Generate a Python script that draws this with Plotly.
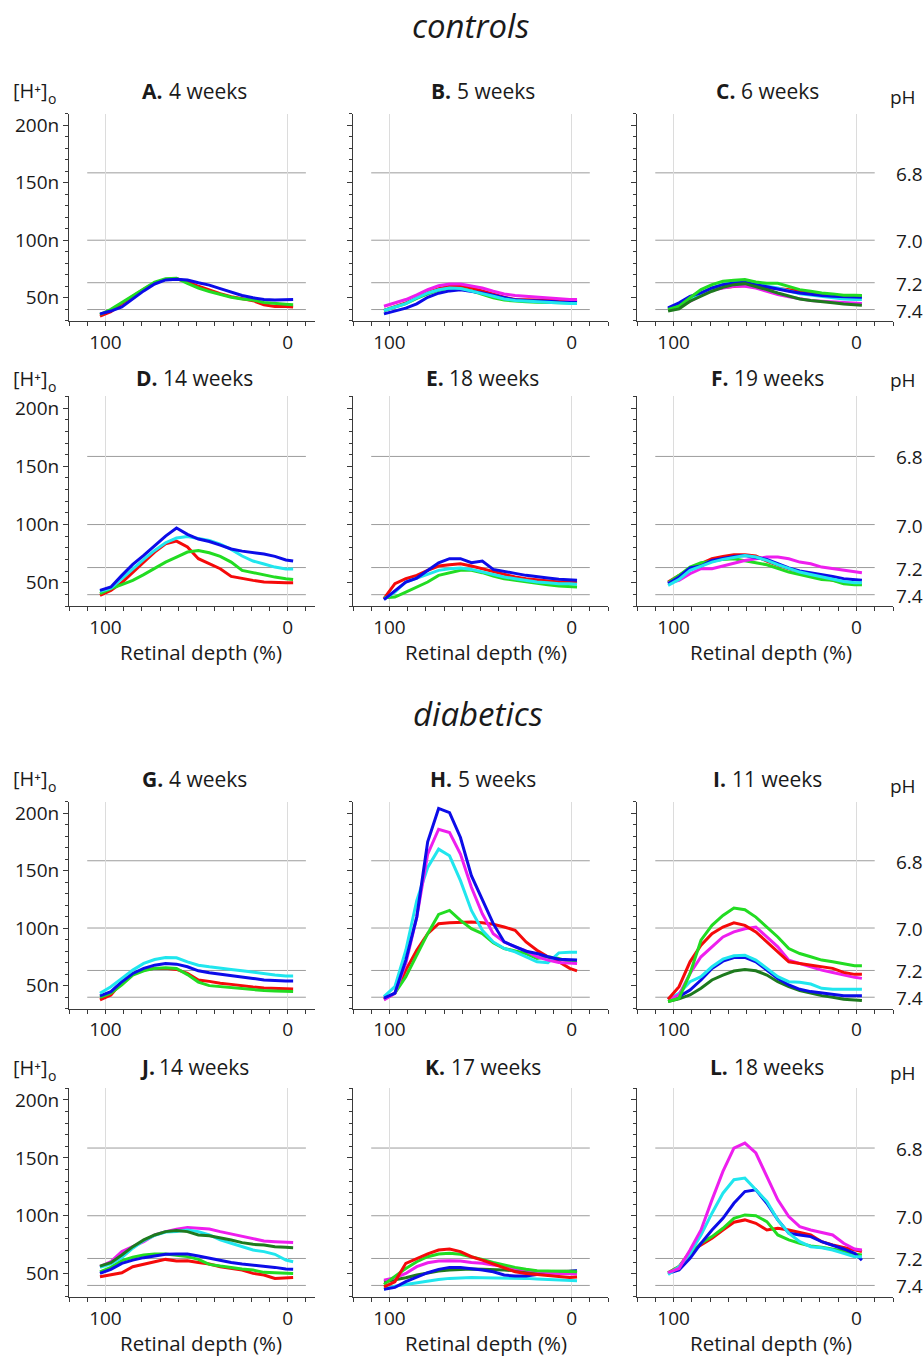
import plotly.graph_objects as go

W, H = 923, 1357

# ---------------- data ----------------
depth = [103, 97, 91, 85, 79, 73, 67, 61, 55, 49, 43, 37, 31, 25, 19, 13, 7, 1, -3]

# controls
a_red = [34, 38, 45, 51.5, 57.5, 63, 66, 66.5, 64, 60, 56.5, 53.5, 51, 49, 47.5, 44, 42.5, 42.5, 42]
a_green = [35.5, 40, 46, 52, 58, 63.5, 66.5, 67, 62.5, 58.5, 55.5, 53, 50.5, 49, 48, 46, 45, 44.5, 44]
a_blue = [36, 38.5, 42, 49, 56, 62, 65.5, 66, 65.5, 63, 61, 58, 55, 52, 50, 48.5, 48, 48.5, 48.5]

b_red = [39, 42, 45.5, 50, 54.5, 58, 60, 60, 58.5, 56, 53, 50.5, 48.5, 48, 48, 48, 47.5, 47, 47]
b_green = [39, 42, 45, 49.5, 53.5, 56.5, 58, 58, 56, 53, 50, 48, 47, 46.5, 46.2, 46, 45.7, 45.5, 45.5]
b_blue = [36, 38.4, 41, 44.7, 50.4, 54, 56, 57, 55.7, 54.2, 52.2, 50, 48.2, 47.6, 47.6, 47, 46.4, 46, 46]
b_cyan = [39, 41.9, 45, 50, 54.2, 57, 58.5, 58, 56, 53.6, 51.3, 49, 47.6, 47, 46.4, 46.1, 45.5, 45, 45]
b_magenta = [42.7, 45.5, 48.5, 52.5, 57, 60.5, 62, 62, 60, 58.5, 55.7, 53.3, 52, 51.3, 51, 50.2, 49, 48.5, 48.5]

c_red = [40.4, 43.5, 47.6, 52.5, 57, 59, 60, 60.6, 60, 58.5, 58, 57.1, 55.7, 55.1, 53.4, 52, 51.5, 51.3, 51.3]
c_magenta = [40.4, 43.5, 47, 52, 56.5, 58.5, 60, 60, 58.5, 55.7, 52.8, 50.8, 49, 47.6, 47, 46.5, 46.1, 45.5, 45]
c_cyan = [40.4, 45, 49, 54, 58.5, 61.5, 63.7, 64.3, 63.4, 60, 58.5, 56, 53.6, 52.5, 51.3, 50, 49, 48.5, 48.5]
c_blue = [41.2, 45.6, 51.3, 54.2, 58.5, 61.4, 62.9, 63.4, 61.4, 59.4, 58, 55.7, 54.2, 52.8, 52, 51.3, 50.8, 50.5, 50.5]
c_green = [39.8, 42.7, 50, 57.1, 61.4, 64.3, 65.2, 65.8, 63.7, 62.6, 62.6, 60, 57.1, 55.7, 54.2, 53.4, 52.2, 52.2, 52]
c_dkgreen = [38.4, 40.4, 47, 51.3, 55.7, 59.1, 61.4, 62.3, 60, 57.1, 54.2, 51.3, 49, 47.6, 46.4, 45.6, 44.7, 44.1, 43.6]

d_red = [39.2, 43.5, 50.1, 59.2, 67.8, 76.4, 83.5, 85.8, 80.7, 70.7, 66.1, 62.1, 55.5, 53.5, 52.1, 50.7, 50.1, 50.1, 50.1]
d_green = [40.7, 45, 48.4, 52.1, 57, 62.1, 67.8, 72.1, 76.4, 77.8, 75.8, 72.7, 67.8, 60.7, 58.7, 57, 54.9, 53.5, 52.9]
d_cyan = [42.7, 45.5, 53.5, 62.1, 70.1, 77.8, 84.4, 88.4, 89.8, 88.1, 86.4, 83.2, 78.7, 73, 68.7, 66.1, 63.5, 61.8, 61.8]
d_blue = [43.5, 46.4, 56.4, 65.8, 73.5, 82.1, 90.1, 97, 91.6, 87.6, 85.5, 82.4, 79, 77.2, 76.1, 74.7, 72.7, 69.6, 68.7]

e_red = [36.4, 49.2, 53.5, 56.4, 60.7, 64.4, 65.5, 66.4, 64.4, 62.1, 59.2, 57, 55, 53.5, 52.7, 51.8, 50.7, 50.7, 50.7]
e_green = [37.2, 37.8, 42, 46.4, 50.7, 56.4, 58.7, 60.7, 60.7, 58.7, 55.8, 53.5, 52.1, 50.7, 49.2, 48.4, 47.2, 46.4, 46.4]
e_cyan = [35.8, 42, 50.7, 54.1, 57.8, 60.7, 62.1, 62.7, 61.5, 59.2, 57.2, 55, 53.5, 52.1, 50.7, 50.1, 49.2, 49.2, 48.7]
e_blue = [35.5, 43.5, 50.7, 54.1, 60.7, 67.2, 70.7, 70.7, 67.2, 68.7, 61.5, 60.1, 58.1, 56.4, 55, 54.1, 53, 52.1, 52.1]

f_red = [50.7, 56.4, 62.1, 66.4, 70.7, 72.7, 74.1, 74.1, 73, 68.7, 64.9, 62.1, 59.2, 57, 55, 52.1, 50.7, 49.2, 49.2]
f_green = [50.1, 56.4, 63.5, 67.2, 68.4, 70.1, 70.7, 69.2, 67.2, 65.5, 62.1, 59.2, 57.2, 55, 52.9, 52.1, 49.2, 48.4, 48.4]
f_magenta = [49.8, 52.1, 57.8, 62.1, 62.1, 64.4, 66.4, 69.2, 70.7, 72.1, 72.1, 70.7, 67.8, 66.4, 63.5, 62.1, 60.7, 59.2, 58.7]
f_blue = [49.2, 55, 62.7, 64.4, 69.2, 70.7, 72.7, 73.5, 72.1, 70.1, 66.4, 62.7, 60.1, 58.7, 57.2, 55.5, 53.5, 52.7, 52.1]
f_cyan = [47.8, 52.9, 60.7, 64.4, 67.8, 70.1, 71.5, 73.5, 72.1, 69.2, 65.5, 62.1, 59.2, 57.2, 55, 52.9, 51.2, 50.1, 50.1]

# diabetics
g_red = [37.5, 41.8, 53.3, 60.5, 63.4, 64.9, 64.9, 64, 60.5, 54.8, 53.6, 51.9, 51, 49.6, 48.7, 47.9, 47.6, 47, 47]
g_green = [39.8, 43.3, 50.5, 59.1, 62.8, 64.9, 65.4, 64.9, 59.5, 53, 49.9, 49, 48.2, 47.3, 46.4, 45.6, 45.3, 45, 44.7]
g_blue = [41, 44.7, 53.3, 60.5, 64.9, 67.7, 69.2, 68.6, 66.3, 62.8, 61.1, 60, 58.5, 57.7, 56.2, 54.8, 54.2, 53.9, 53.9]
g_cyan = [43.3, 49, 56.2, 63.4, 69.2, 72.6, 74.4, 74.1, 70.6, 67.7, 66.3, 64.9, 64, 62.8, 61.4, 60.5, 59.1, 58.2, 58.2]

h_red = [38.1, 43.3, 63.4, 80.7, 95.1, 103.8, 104.6, 105.2, 105.2, 104.6, 103.2, 100.9, 98, 87.9, 80.7, 75, 70.6, 64.9, 62.8]
h_green = [38.1, 43.3, 57.7, 76.4, 95.1, 111.8, 115.3, 106.6, 99.4, 95.1, 87.1, 82.2, 80.1, 77.8, 73.5, 75, 73.5, 70.6, 70.6]
h_cyan = [40.4, 49, 80.7, 123.9, 152.7, 168.6, 162.8, 141.2, 115.3, 98, 87.9, 82.2, 79.3, 75, 70.6, 69.8, 78.4, 79, 79]
h_magenta = [37.5, 43.3, 69.2, 109.5, 164.3, 185.9, 183, 164.3, 135.4, 112.4, 95.1, 87.9, 83.6, 80.1, 75, 72.1, 70.1, 69.2, 69.2]
h_blue = [39, 43.3, 72.1, 109.5, 175, 204, 200.3, 178.7, 145.5, 123.9, 103.8, 87.9, 83.6, 79.8, 77.8, 75, 72.9, 72.1, 72.1]

i_dkgreen = [36.1, 38.4, 41.8, 47.6, 54.8, 59.1, 62.6, 64, 62.8, 59.1, 53.3, 49, 45.6, 43.3, 41.2, 39.8, 38.1, 37.5, 37]
i_blue = [38.1, 40.4, 46.1, 54.8, 64.9, 71.2, 74.4, 74.4, 70.6, 63.4, 56.2, 50.5, 46.7, 44.7, 43.3, 41.8, 41, 41.2, 41.2]
i_cyan = [38.1, 43.3, 53.3, 57.7, 66.3, 72.9, 75.8, 76.4, 72.1, 64.9, 57.7, 53.3, 52.8, 51.3, 47.6, 46.7, 46.7, 46.7, 46.7]
i_magenta = [37.5, 41.8, 60.5, 75, 83.6, 92.2, 96.6, 99.4, 100.9, 92.2, 83.6, 72.1, 69.2, 66.3, 63.4, 61.4, 59.1, 57.1, 56.2]
i_red = [38.1, 49, 70.6, 85, 95.1, 100.9, 104.6, 102.3, 96.6, 87.9, 79.3, 70.6, 69.2, 67.7, 66.3, 64.9, 61.4, 59.7, 59.7]
i_green = [36.1, 39, 60.5, 89.4, 102.3, 110.9, 117.3, 115.9, 109.5, 100.9, 92.2, 82.2, 77.8, 75, 72.1, 70.6, 68.6, 67.2, 67.2]

j_red = [47.3, 48.8, 50.8, 56, 58.3, 60.3, 62.3, 60.9, 61.2, 59.7, 58.3, 56, 54.5, 53.1, 50.2, 48.8, 45.9, 46.7, 46.7]
j_green = [51.6, 55.4, 61.2, 64.1, 66.1, 67, 67, 66.1, 64.7, 62.3, 58, 56.5, 55.1, 54, 53.1, 51.1, 50.8, 50.2, 50.2]
j_blue = [50.2, 53.7, 58.9, 61.7, 63.8, 65.5, 66.7, 67, 67, 65.2, 63.2, 61.2, 59.7, 58.3, 57.4, 56, 55.4, 54, 53.7]
j_magenta = [56, 60.3, 69, 73.3, 77.6, 83.4, 86.3, 88.3, 89.8, 89.2, 88.6, 86.3, 84.3, 82, 80.5, 78.2, 77.6, 76.8, 76.8]
j_cyan = [55.4, 58.5, 64, 72, 78.5, 83, 86, 86.3, 87.7, 86.3, 83.4, 79.1, 76.2, 73.3, 70.4, 69, 66.7, 61.7, 60.3]
j_dkgreen = [56.5, 59.4, 66.1, 73.3, 79.1, 83.4, 86.3, 87.2, 86.3, 83.4, 82.8, 81.1, 79.1, 76.8, 75.3, 74.7, 73.3, 72.7, 72.4]

k_cyan = [36.6, 39.2, 40.7, 42.1, 43.8, 45, 45.9, 46.4, 46.7, 46.4, 46.4, 46.4, 46.2, 45.9, 45.3, 45, 44.4, 43.8, 43.8]
k_dkgreen = [43, 44.4, 46.4, 48.8, 50.8, 52.2, 53.1, 53.7, 54, 53.7, 53.7, 53.1, 52.5, 51.6, 51.6, 51.6, 51.6, 51.6, 52.2]
k_blue = [36.6, 38.1, 43, 46.7, 50.8, 53.7, 55.4, 55.4, 54.5, 53.1, 51.6, 48.8, 47.9, 47.9, 49.3, 50.2, 50.8, 51.6, 52.5]
k_magenta = [44.4, 46.4, 50.2, 56, 59.4, 60.9, 61.2, 60.9, 59.7, 58.9, 57.4, 56.5, 54.5, 53.1, 52.2, 50.8, 50.2, 49.6, 49.6]
k_green = [40.7, 47.3, 54.5, 60.3, 64.6, 67, 67.5, 66.7, 64.6, 62.3, 59.7, 57.4, 55.4, 53.7, 52.5, 52.2, 51.9, 51.6, 51.6]
k_red = [38.6, 43, 58.9, 63.2, 67, 70.4, 71.3, 69, 64.6, 61.7, 58.3, 54.5, 51.6, 50.2, 49.3, 48.8, 47.9, 46.7, 47]

l_red = [50.8, 56, 69, 74.7, 80.5, 87.7, 94.4, 96.4, 93.5, 87.7, 89.2, 87.7, 85.4, 83.4, 77.6, 74.7, 72.7, 70.4, 69]
l_green = [50.8, 56, 67, 76.2, 82, 89.2, 97.8, 100.7, 100.1, 94.9, 83.4, 79.1, 76.2, 73.9, 72.7, 71, 69.5, 66.9, 66.1]
l_blue = [50.2, 53.1, 63.2, 76.2, 87.7, 97.8, 110.8, 120.9, 122.4, 110.8, 96.4, 84.9, 83.4, 82, 77.6, 74.7, 71.3, 67.5, 61.7]
l_cyan = [49.3, 56, 67.5, 83.4, 102.2, 119.5, 131.1, 132.5, 122.4, 112.3, 96.4, 84.9, 77.6, 73.3, 72.4, 70.4, 67.5, 64.6, 64.6]
l_magenta = [50.8, 54.5, 70.4, 87.7, 113.7, 138.3, 158.5, 162.8, 154.2, 134, 113.7, 99.3, 90.6, 87.7, 85.4, 83.4, 76.2, 71.3, 70.4]

panel_letters = ["A.", "B.", "C.", "D.", "E.", "F.", "G.", "H.", "I.", "J.", "K.", "L."]
panel_ages = ["4 weeks", "5 weeks", "6 weeks", "14 weeks", "18 weeks", "19 weeks",
              "4 weeks", "5 weeks", "11 weeks", "14 weeks", "17 weeks", "18 weeks"]
panel_series = [
    [("red", a_red), ("green", a_green), ("blue", a_blue)],
    [("red", b_red), ("green", b_green), ("blue", b_blue), ("cyan", b_cyan), ("magenta", b_magenta)],
    [("red", c_red), ("magenta", c_magenta), ("cyan", c_cyan), ("blue", c_blue), ("green", c_green), ("dkgreen", c_dkgreen)],
    [("red", d_red), ("green", d_green), ("cyan", d_cyan), ("blue", d_blue)],
    [("red", e_red), ("green", e_green), ("cyan", e_cyan), ("blue", e_blue)],
    [("red", f_red), ("green", f_green), ("magenta", f_magenta), ("blue", f_blue), ("cyan", f_cyan)],
    [("red", g_red), ("green", g_green), ("blue", g_blue), ("cyan", g_cyan)],
    [("red", h_red), ("green", h_green), ("cyan", h_cyan), ("magenta", h_magenta), ("blue", h_blue)],
    [("dkgreen", i_dkgreen), ("blue", i_blue), ("cyan", i_cyan), ("magenta", i_magenta), ("red", i_red), ("green", i_green)],
    [("red", j_red), ("green", j_green), ("blue", j_blue), ("magenta", j_magenta), ("cyan", j_cyan), ("dkgreen", j_dkgreen)],
    [("cyan", k_cyan), ("dkgreen", k_dkgreen), ("blue", k_blue), ("magenta", k_magenta), ("green", k_green), ("red", k_red)],
    [("red", l_red), ("green", l_green), ("blue", l_blue), ("cyan", l_cyan), ("magenta", l_magenta)],
]

h_tickvals = [50, 100, 150, 200]
h_ticktext = ["50n", "100n", "150n", "200n"]
ph_levels = [6.8, 7.0, 7.2, 7.4]
ph_ticktext = ["6.8", "7.0", "7.2", "7.4"]
x_tickvals = [100, 0]
x_ticktext = ["100", "0"]

# ---------------- styling / layout ----------------
COLORS = {"red": "#f50a0a", "green": "#22dc22", "blue": "#0c0ce8", "cyan": "#20e6ee",
          "magenta": "#ee1eee", "dkgreen": "#1e7a1e"}
FONT = "Open Sans, Lato, Arial, sans-serif"
TXT = "#1a1a1a"
AXC = "#3a3a3a"

Y_RANGE = [30, 210]
row_px = [(111.7, 319.3), (395, 605), (800.7, 1008), (1088, 1296.7)]
col_px = [(69, 315), (353, 608), (637, 893)]
x_right = [-15, -20, -20]
title_y = [89, 377, 778, 1067]
ph_title_y = [95, 379, 785, 1073]
TITLE_SIZE = 21

# approximate advance widths (em) used only to centre the two-part panel titles
BOLD_W = {"A": .74, "B": .71, "C": .65, "D": .75, "E": .56, "F": .54, "G": .74, "H": .78,
          "I": .35, "J": .34, "K": .68, "L": .57, ".": .29}
REG_W = {" ": .26, "w": .82, "e": .562, "k": .53, "s": .48}


def text_w(s, table, size):
    return sum(table.get(ch, .572) for ch in s) * size


def px(x):
    return x / W


def py(y):
    return 1 - y / H


fig = go.Figure()
layout = dict(
    width=W, height=H, margin=dict(l=0, r=0, t=0, b=0),
    paper_bgcolor="white", plot_bgcolor="white", showlegend=False,
    font=dict(family=FONT, size=19, color=TXT),
)
shapes = []
annotations = []

for i in range(12):
    n = i + 1
    r, c = divmod(i, 3)
    xa, ya = f"xaxis{n}", f"yaxis{n}"
    xr, yr = f"x{n}", f"y{n}"
    for cname, vals in panel_series[i]:
        fig.add_trace(go.Scatter(x=depth, y=vals, mode="lines", xaxis=xr, yaxis=yr,
                                 line=dict(color=COLORS[cname], width=3), hoverinfo="skip"))
    layout[xa] = dict(
        domain=[px(col_px[c][0]), px(col_px[c][1])], anchor=yr,
        range=[120, x_right[c]], tickmode="array", tickvals=x_tickvals, ticktext=x_ticktext,
        ticks="outside", ticklen=4, tickcolor=AXC, showline=True, linecolor=AXC, linewidth=1,
        showgrid=True, gridcolor="#dcdcdc", gridwidth=1, zeroline=False,
        tickfont=dict(size=19), ticklabelstandoff=0,
        minor=dict(tickmode="linear", tick0=0, dtick=10, ticks="outside", ticklen=4,
                   tickcolor=AXC, showgrid=False),
    )
    layout[ya] = dict(
        domain=[py(row_px[r][1]), py(row_px[r][0])], anchor=xr,
        range=Y_RANGE, tickmode="array", tickvals=h_tickvals, ticktext=h_ticktext,
        showticklabels=(c == 0), ticks="outside", ticklen=5, tickcolor=AXC,
        showline=True, linecolor=AXC, linewidth=1, showgrid=False, zeroline=False,
        tickfont=dict(size=19),
        minor=dict(tickmode="linear", tick0=0, dtick=10, ticks="outside", ticklen=3,
                   tickcolor=AXC, showgrid=False),
    )
    top, bot = row_px[r]
    for p, lab in zip(ph_levels, ph_ticktext):
        hv = 10 ** (9 - p)
        shapes.append(dict(type="line", xref=xr, yref=yr, x0=110, x1=-10, y0=hv, y1=hv,
                           line=dict(color="#9c9c9c", width=1), layer="below"))
        if c == 2:
            # pH scale label, positioned from the same linear [H+] scale as the panel
            ypix = top + (Y_RANGE[1] - hv) / (Y_RANGE[1] - Y_RANGE[0]) * (bot - top)
            annotations.append(dict(text=lab, x=px(col_px[c][1] + 1), y=py(ypix + 1),
                                    xref="paper", yref="paper", xanchor="left", yanchor="middle",
                                    showarrow=False, font=dict(size=19, color=TXT)))
    # panel title: bold letter + regular age, centred together
    cx = (col_px[c][0] + col_px[c][1]) / 2 + 1
    wl = text_w(panel_letters[i], BOLD_W, TITLE_SIZE)
    gap = REG_W[" "] * TITLE_SIZE
    wa = text_w(panel_ages[i], REG_W, TITLE_SIZE)
    left = cx - (wl + gap + wa) / 2
    annotations.append(dict(text=panel_letters[i], x=px(left), y=py(title_y[r]),
                            xref="paper", yref="paper", showarrow=False, xanchor="left",
                            yanchor="middle", font=dict(size=TITLE_SIZE, color=TXT, weight="bold")))
    annotations.append(dict(text=panel_ages[i], x=px(left + wl + gap), y=py(title_y[r]),
                            xref="paper", yref="paper", showarrow=False, xanchor="left",
                            yanchor="middle", font=dict(size=TITLE_SIZE, color=TXT)))

for r in range(4):
    annotations.append(dict(text="[H\u207a]", x=px(11), y=py(title_y[r]),
                            xref="paper", yref="paper", showarrow=False, xanchor="left",
                            yanchor="middle", font=dict(size=20, color=TXT)))
    annotations.append(dict(text="o", x=px(45.5), y=py(title_y[r] + 8),
                            xref="paper", yref="paper", showarrow=False, xanchor="left",
                            yanchor="middle", font=dict(size=14, color=TXT)))
    annotations.append(dict(text="pH", x=px(888), y=py(ph_title_y[r]), xref="paper", yref="paper",
                            showarrow=False, xanchor="left", yanchor="middle", font=dict(size=19, color=TXT)))

for ry in [651, 1343]:
    for cxp in [201, 486, 771]:
        annotations.append(dict(text="Retinal depth (%)", x=px(cxp), y=py(ry), xref="paper",
                                yref="paper", showarrow=False, xanchor="center", yanchor="middle",
                                font=dict(size=20.5, color=TXT)))

annotations.append(dict(text="controls", x=px(471), y=py(24), xref="paper", yref="paper",
                        showarrow=False, xanchor="center", yanchor="middle",
                        font=dict(size=33, color=TXT, style="italic")))
annotations.append(dict(text="diabetics", x=px(478), y=py(713), xref="paper", yref="paper",
                        showarrow=False, xanchor="center", yanchor="middle",
                        font=dict(size=33, color=TXT, style="italic")))

layout["shapes"] = shapes
layout["annotations"] = annotations
fig.update_layout(**layout)
fig.write_html("out.html")
